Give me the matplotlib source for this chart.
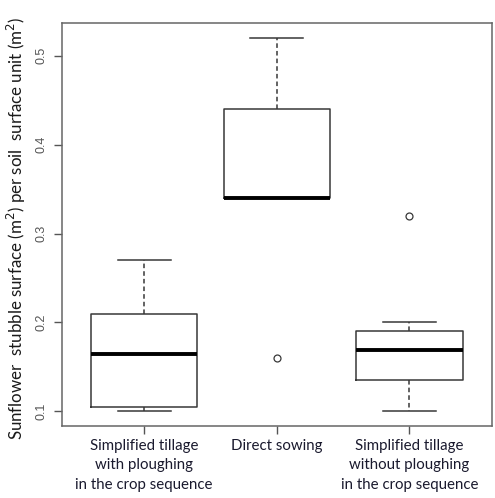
import numpy as np
import matplotlib
matplotlib.use("Agg")
import matplotlib.pyplot as plt

# values
groups = ["Simplified tillage\nwith ploughing\nin the crop sequence",
          "Direct sowing",
          "Simplified tillage\nwithout ploughing\nin the crop sequence"]
whis_lo = [0.100, 0.340, 0.100]
q1 = [0.105, 0.340, 0.135]
median = [0.164, 0.340, 0.169]
q3 = [0.210, 0.440, 0.190]
whis_hi = [0.270, 0.520, 0.200]
outliers = [[], [0.160], [0.320]]

stats = [dict(whislo=a, q1=b, med=c, q3=d, whishi=e, fliers=f)
         for a, b, c, d, e, f in zip(whis_lo, q1, median, q3, whis_hi, outliers)]

fig = plt.figure(figsize=(4.95, 4.98), dpi=100)
ax = fig.add_axes([0.1253, 0.1452, 0.868, 0.808])

LC = "#383838"
ax.bxp(stats, positions=np.arange(1, 4), widths=0.8, showfliers=True,
       boxprops=dict(color=LC, lw=1.1),
       whiskerprops=dict(color=LC, lw=1.1, ls=(0, (3, 2))),
       capprops=dict(color=LC, lw=1.1),
       medianprops=dict(color="black", lw=2.8, solid_capstyle="butt"),
       flierprops=dict(marker="o", mfc="none", mec=LC, ms=5, mew=0.9))

ax.set_xlim(0.38, 3.62)
ax.set_ylim(0.0838, 0.5365)
ax.set_yticks([0.1, 0.2, 0.3, 0.4, 0.5])
ax.set_yticklabels(["0.1", "0.2", "0.3", "0.4", "0.5"], rotation=90, va="center",
                   color="#555555", fontsize=9, family="Liberation Sans")
ax.set_xticks([1, 2, 3])
ax.set_xticklabels(groups, fontsize=10.8, family="Lato", color="#1a1a2e",
                   linespacing=1.5)
ax.tick_params(axis="both", direction="out", length=5.5, width=1, color="#555555")
ax.tick_params(axis="y", pad=5)
ax.tick_params(axis="x", pad=4)
for s in ax.spines.values():
    s.set_color("#666666")
    s.set_linewidth(1.1)

ax.set_ylabel("Sunflower  stubble surface (m$^2$) per soil  surface unit (m$^2$)",
              fontsize=12.2, family="Lato", color="#1a1a1a")
ax.yaxis.set_label_coords(-0.08, 0.49)

fig.savefig("out.png", dpi=100)
